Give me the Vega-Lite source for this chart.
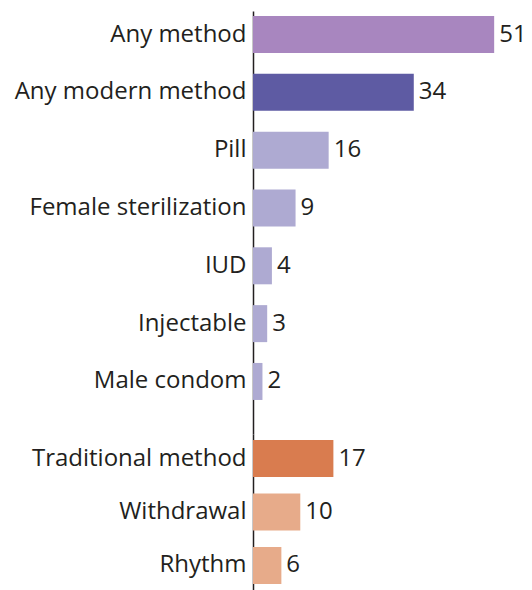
{
  "$schema": "https://vega.github.io/schema/vega-lite/v6.json",
  "background": "white",
  "padding": {"left": 0, "top": 11, "right": 0, "bottom": 0},
  "spacing": 0,
  "config": {
    "view": {"stroke": null},
    "font": "Open Sans",
    "axisY": {
      "title": null,
      "ticks": false,
      "labelPadding": 7,
      "minExtent": 253,
      "maxExtent": 253,
      "domainColor": "#231f20",
      "domainWidth": 1.5,
      "labelFontSize": 24,
      "labelColor": "#231f20",
      "labelLimit": 0,
      "labelFont": "Open Sans"
    }
  },
  "datasets": {
    "modern": [
      {"method": "Any method", "value": 51, "kind": "any"},
      {"method": "Any modern method", "value": 34, "kind": "modern total"},
      {"method": "Pill", "value": 16, "kind": "modern"},
      {"method": "Female sterilization", "value": 9, "kind": "modern"},
      {"method": "IUD", "value": 4, "kind": "modern"},
      {"method": "Injectable", "value": 3, "kind": "modern"},
      {"method": "Male condom", "value": 2, "kind": "modern"}
    ],
    "traditional": [
      {"method": "Traditional method", "value": 17, "kind": "traditional total"},
      {"method": "Withdrawal", "value": 10, "kind": "traditional"},
      {"method": "Rhythm", "value": 6, "kind": "traditional"}
    ]
  },
  "vconcat": [
    {
      "width": 279,
      "height": 423,
      "data": {"name": "modern"},
      "encoding": {
        "y": {"field": "method", "type": "nominal", "sort": null,
              "scale": {"paddingInner": 0.36, "paddingOuter": 0.3375, "align": 0.128}},
        "x": {"field": "value", "type": "quantitative", "scale": {"domain": [0, 59]}, "axis": null}
      },
      "layer": [
        {
          "mark": {"type": "bar"},
          "encoding": {
            "color": {"field": "kind", "type": "nominal", "legend": null,
                      "scale": {"domain": ["any", "modern total", "modern", "traditional total", "traditional"],
                                "range": ["#a886bf", "#5e5ba3", "#aeaad2", "#d97c4f", "#e7ab8a"]}}
          }
        },
        {
          "mark": {"type": "text", "align": "left", "baseline": "middle", "dx": 5, "fontSize": 24, "color": "#231f20", "font": "Open Sans"},
          "encoding": {"text": {"field": "value", "type": "quantitative"}}
        }
      ]
    },
    {
      "width": 279,
      "height": 156,
      "data": {"name": "traditional"},
      "encoding": {
        "y": {"field": "method", "type": "nominal", "sort": null,
              "scale": {"paddingInner": 0.308, "paddingOuter": 0.112}},
        "x": {"field": "value", "type": "quantitative", "scale": {"domain": [0, 59]}, "axis": null}
      },
      "layer": [
        {
          "mark": {"type": "bar"},
          "encoding": {
            "color": {"field": "kind", "type": "nominal", "legend": null,
                      "scale": {"domain": ["any", "modern total", "modern", "traditional total", "traditional"],
                                "range": ["#a886bf", "#5e5ba3", "#aeaad2", "#d97c4f", "#e7ab8a"]}}
          }
        },
        {
          "mark": {"type": "text", "align": "left", "baseline": "middle", "dx": 5, "fontSize": 24, "color": "#231f20", "font": "Open Sans"},
          "encoding": {"text": {"field": "value", "type": "quantitative"}}
        }
      ]
    }
  ]
}
